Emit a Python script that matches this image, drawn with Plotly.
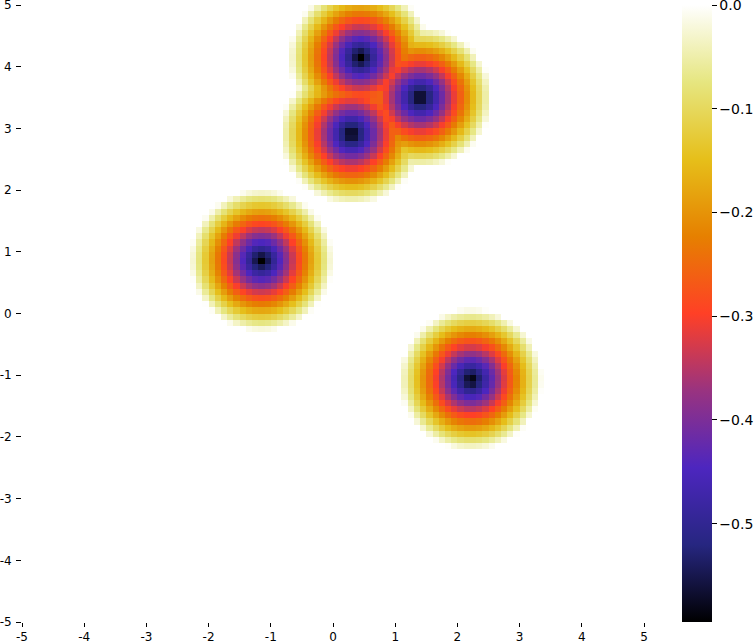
import numpy as np
import plotly.graph_objects as go

# blob centres, with depth and cut-off radius
blob_x = [2.22, -1.15, 0.44, 1.40, 0.30]
blob_y = [-1.07, 0.86, 4.15, 3.50, 2.91]
blob_depth = [0.60, 0.60, 0.60, 0.60, 0.60]
blob_radius = [1.15, 1.15, 1.15, 1.15, 1.15]

# grid cells (0.1 wide) and tick labels
grid_x = np.round(np.arange(-4.95, 5.0, 0.1), 2)
grid_y = np.round(np.arange(-4.95, 5.0, 0.1), 2)
tick_vals = [-5, -4, -3, -2, -1, 0, 1, 2, 3, 4, 5]
cbar_ticks = [0.0, -0.1, -0.2, -0.3, -0.4, -0.5]

# matplotlib CMRmap
CMRMAP = [
    [0.000, "rgb(0,0,0)"],
    [0.125, "rgb(38,38,128)"],
    [0.250, "rgb(77,38,191)"],
    [0.375, "rgb(153,51,128)"],
    [0.500, "rgb(255,64,38)"],
    [0.625, "rgb(230,128,0)"],
    [0.750, "rgb(230,191,26)"],
    [0.875, "rgb(230,230,128)"],
    [1.000, "rgb(255,255,255)"],
]

_FONT = dict(family="DejaVu Sans", color="#000000", size=12)

gx, gy = np.meshgrid(grid_x, grid_y)
z = np.zeros_like(gx)
for bx, by, d, rad in zip(blob_x, blob_y, blob_depth, blob_radius):
    r = np.hypot(gx - bx, gy - by)
    z = np.minimum(z, -d * np.clip(1 - r / rad, 0, None))

fig = go.Figure(go.Heatmap(
    x=grid_x, y=grid_y, z=z,
    colorscale=CMRMAP, zmin=float(z.min()), zmax=0,
    zsmooth=False,
    colorbar=dict(
        x=1.0446, xanchor="left", xpad=10, thickness=30, len=1, y=0.5, ypad=0,
        outlinewidth=0, ticks="outside", ticklen=5, tickcolor="#000",
        tickvals=cbar_ticks, tickformat=".1f", ticklabeloverflow="allow",
        tickfont=dict(family="DejaVu Sans", size=14, color="#000"),
    ),
))

_AX = dict(showgrid=False, zeroline=False, showline=False, ticks="outside",
           tickcolor="#000", tickvals=tick_vals, ticktext=[str(v) for v in tick_vals],
           range=[-5, 5], ticklabeloverflow="allow",
           tickfont=dict(family="DejaVu Sans", size=12, color="#000"))

fig.update_layout(
    width=755, height=643,
    paper_bgcolor="#FFFFFF", plot_bgcolor="#FFFFFF",
    font=_FONT,
    margin=dict(l=22, r=111, t=5, b=21, autoexpand=False),
    xaxis=dict(_AX, ticklen=4, ticklabelstandoff=0),
    yaxis=dict(_AX, ticklen=5, ticklabelstandoff=2),
)

# page body margin would push the figure 8px down/right
fig.write_html("out.html", config=dict(displayModeBar=False),
               post_script="document.body.style.margin='0';")
